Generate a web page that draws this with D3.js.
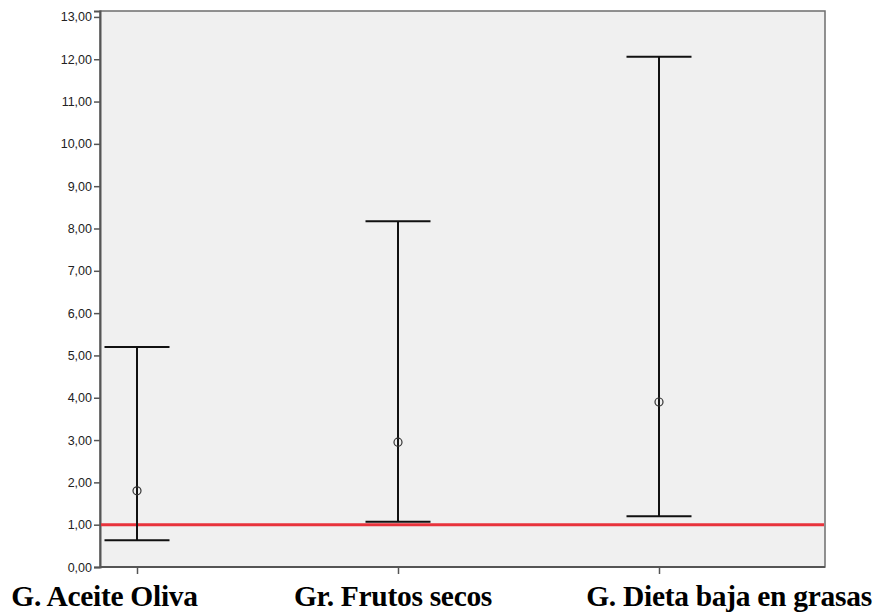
<!DOCTYPE html>
<html>
<head>
<meta charset="utf-8">
<script src="https://cdn.jsdelivr.net/npm/d3@7/dist/d3.min.js"></script>
<style>
  html, body { margin: 0; padding: 0; background: #ffffff; }
  svg { display: block; }
</style>
</head>
<body>
<svg id="chart" width="874" height="613"></svg>
<script>
// Group names and interval estimates (point estimate with lower/upper limits)
const groups = ["G. Aceite Oliva", "Gr. Frutos secos", "G. Dieta baja en grasas"];
const estimates = [1.80, 2.95, 3.90];
const lowerLimits = [0.63, 1.07, 1.20];
const upperLimits = [5.20, 8.17, 12.06];
const yTicks = [0, 1, 2, 3, 4, 5, 6, 7, 8, 9, 10, 11, 12, 13];
const referenceValue = 1;

// Layout
const plot = { left: 100, right: 825, top: 11, bottom: 567 };
const capHalf = 32.5;
const labelShift = [-32.5, -5, 70];

const svg = d3.select("#chart");

const y = d3.scaleLinear().domain([0, 13.14]).range([plot.bottom, plot.top]);
const x = d3.scalePoint().domain(groups).range([137, 659]);

const fmt = v => d3.format(".2f")(v).replace(".", ",");

// Plot background
svg.append("rect")
  .attr("x", plot.left).attr("y", plot.top)
  .attr("width", plot.right - plot.left).attr("height", plot.bottom - plot.top)
  .attr("fill", "#f0f0f0")
  .attr("stroke", "#6e6e6e").attr("stroke-width", 1.5);

// Y axis
const yAxis = svg.append("g")
  .attr("transform", `translate(${plot.left},0)`)
  .call(d3.axisLeft(y).tickValues(yTicks).tickFormat(fmt).tickSize(6).tickPadding(2));
yAxis.select(".domain").attr("stroke", "#555").attr("stroke-width", 2);
yAxis.selectAll(".tick line").attr("stroke", "#555").attr("stroke-width", 1.5);
yAxis.selectAll(".tick text")
  .attr("fill", "#222")
  .style("font-family", "'Liberation Sans', Arial, sans-serif")
  .style("font-size", "12.5px");

// X axis ticks
const xAxis = svg.append("g")
  .attr("transform", `translate(0,${plot.bottom})`)
  .call(d3.axisBottom(x).tickSize(7).tickFormat(""));
xAxis.select(".domain").attr("stroke", "#555").attr("stroke-width", 2)
  .attr("d", `M${plot.left},0H${plot.right}`);
xAxis.selectAll(".tick line").attr("stroke", "#555").attr("stroke-width", 1.5);

// Reference line
svg.append("line")
  .attr("x1", plot.left + 1).attr("x2", plot.right - 1)
  .attr("y1", y(referenceValue)).attr("y2", y(referenceValue))
  .attr("stroke", "#e8333c").attr("stroke-width", 3);

// Error bars
const rows = groups.map((g, i) => ({ g, est: estimates[i], lo: lowerLimits[i], hi: upperLimits[i] }));
const bars = svg.append("g").selectAll("g").data(rows).join("g");

bars.append("line")
  .attr("x1", d => x(d.g)).attr("x2", d => x(d.g))
  .attr("y1", d => y(d.lo)).attr("y2", d => y(d.hi))
  .attr("stroke", "#111").attr("stroke-width", 2);

bars.append("line")
  .attr("x1", d => x(d.g) - capHalf).attr("x2", d => x(d.g) + capHalf)
  .attr("y1", d => y(d.hi)).attr("y2", d => y(d.hi))
  .attr("stroke", "#111").attr("stroke-width", 2);

bars.append("line")
  .attr("x1", d => x(d.g) - capHalf).attr("x2", d => x(d.g) + capHalf)
  .attr("y1", d => y(d.lo)).attr("y2", d => y(d.lo))
  .attr("stroke", "#111").attr("stroke-width", 2);

bars.append("circle")
  .attr("cx", d => x(d.g)).attr("cy", d => y(d.est))
  .attr("r", 4)
  .attr("fill", "none")
  .attr("stroke", "#333").attr("stroke-width", 1.2);

// Group labels
svg.append("g").selectAll("text").data(groups).join("text")
  .attr("x", (d, i) => x(d) + labelShift[i])
  .attr("y", 606)
  .attr("text-anchor", "middle")
  .attr("fill", "#000")
  .style("font-family", "'Liberation Serif', 'Times New Roman', serif")
  .style("font-weight", "bold")
  .style("font-size", "29.5px")
  .style("letter-spacing", "-0.3px")
  .text(d => d);
</script>
</body>
</html>
